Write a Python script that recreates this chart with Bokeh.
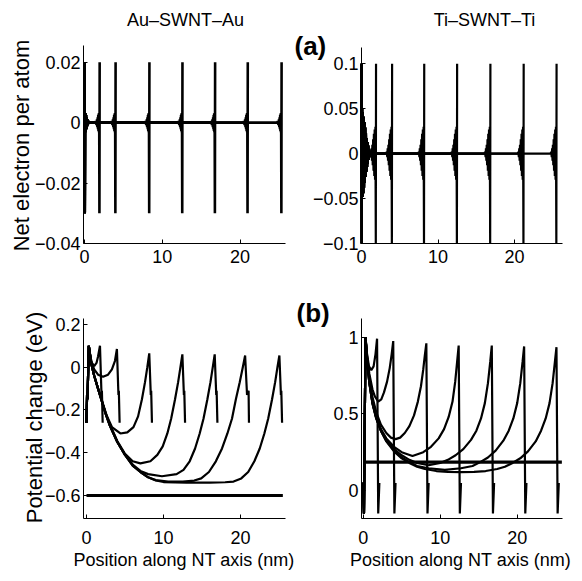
import math
from bokeh.plotting import figure
from bokeh.models import FixedTicker, Range1d, Label
from bokeh.layouts import column, row
from bokeh.embed import file_html
from bokeh.resources import INLINE

FONT = "Liberation Sans"

# ---------------- data ----------------
x_ticks = [0, 10, 20]
x_tick_labels = {0: "0", 10: "10", 20: "20"}

# (a) net electron per atom: tube ends (nm)
au_q_lengths = [1.95, 4.0, 8.35, 12.6, 16.8, 21.0, 25.35]
ti_q_lengths = [1.9, 4.0, 8.2, 12.5, 16.85, 21.2, 25.5]

# charge profile next to a tube end (distance from the end, value)
au_q_dx = [0.0, 0.03, 0.06, 0.09, 0.12, 0.15, 0.18, 0.21, 0.25, 0.29, 0.34, 0.40, 0.50, 0.60]
au_q_end = [0.02, -0.03, 0.0032, -0.0032, 0.003, -0.0028, 0.0025, -0.0022, 0.0018, -0.0015,
            0.0011, -0.0008, 0.0004, 0.0]

ti_q_dx_left = [0.0, 0.03, 0.08, 0.13, 0.18, 0.23, 0.28, 0.33, 0.38, 0.43, 0.48, 0.53, 0.58,
                0.63, 0.68, 0.73, 0.78, 0.83, 0.88, 0.93, 0.98, 1.03, 1.08, 1.13, 1.20]
ti_q_left = [0.1, -0.1, 0.05, -0.048, 0.046, -0.044, 0.041, -0.038, 0.035, -0.032, 0.029,
             -0.026, 0.023, -0.020, 0.017, -0.015, 0.013, -0.011, 0.009, -0.007, 0.005,
             -0.004, 0.003, -0.002, 0.0]
ti_q_dx_right = [0.0, 0.03, 0.08, 0.13, 0.18, 0.23, 0.28, 0.33, 0.38, 0.43, 0.48, 0.53,
                 0.58, 0.63, 0.70, 0.80]
ti_q_right = [0.1, -0.1, 0.03, -0.029, 0.027, -0.025, 0.022, -0.019, 0.016, -0.013, 0.010,
              -0.008, 0.006, -0.004, 0.002, 0.0]

# (b) potential change (eV), Au contacts
au_pot_x = [
    [0.0, 0.08, 0.13, 0.3, 0.5, 0.7, 1.0, 1.3, 1.5, 1.75, 1.95, 2.0, 2.1],
    [0.0, 0.08, 0.13, 0.3, 0.6, 1.0, 1.5, 2.15, 2.8, 3.3, 3.7, 3.95, 4.15, 4.2, 4.3],
    [0.0, 0.08, 0.13, 0.3, 0.6, 1.0, 1.5, 2.0, 2.6, 3.3, 4.4, 5.3, 6.1, 6.7, 7.2, 7.6,
     7.9, 8.15, 8.35, 8.4, 8.5],
    [0.0, 0.08, 0.13, 0.3, 0.6, 1.0, 1.5, 2.0, 2.5, 3.0, 4.0, 5.0, 6.0, 7.0, 8.3, 9.2,
     9.9, 10.5, 11.0, 11.5, 11.9, 12.2, 12.45, 12.65, 12.7, 12.8],
    [0.0, 0.08, 0.13, 0.3, 0.6, 1.0, 1.5, 2.0, 2.5, 3.0, 4.0, 5.0, 6.0, 7.0, 8.0, 9.8,
     11.7, 12.6, 13.4, 14.1, 14.7, 15.2, 15.7, 16.1, 16.4, 16.65, 16.85, 16.9, 17.0],
    [0.0, 0.08, 0.13, 0.3, 0.6, 1.0, 1.5, 2.0, 2.5, 3.0, 4.0, 5.0, 6.0, 7.0, 8.0, 9.0,
     10.6, 12.5, 14.0, 14.9, 15.9, 16.8, 17.6, 18.3, 18.9, 19.4, 19.9, 20.3, 20.6, 20.85,
     21.05, 21.1, 21.2],
    [0.0, 0.08, 0.13, 0.3, 0.6, 1.0, 1.5, 2.0, 2.5, 3.0, 4.0, 5.0, 6.0, 7.0, 8.0, 9.0,
     10.0, 13.0, 16.0, 18.0, 19.1, 20.1, 21.0, 21.8, 22.5, 23.1, 23.6, 24.1, 24.5, 24.8,
     25.05, 25.25, 25.3, 25.4],
]
au_pot_y = [
    [-0.26, -0.12, -0.15, 0.10, 0.05, 0.02, 0.005, 0.02, 0.05, 0.10, -0.13, -0.11, -0.26],
    [-0.26, -0.12, -0.15, 0.10, 0.03, -0.01, -0.035, -0.045, -0.035, -0.01, 0.03, 0.085,
     -0.13, -0.11, -0.26],
    [-0.26, -0.12, -0.15, 0.10, 0.02, -0.04, -0.10, -0.155, -0.225, -0.28, -0.31, -0.305,
     -0.28, -0.23, -0.15, -0.07, 0.0, 0.065, -0.13, -0.11, -0.26],
    [-0.26, -0.12, -0.15, 0.10, 0.02, -0.04, -0.10, -0.16, -0.215, -0.265, -0.345, -0.405,
     -0.44, -0.45, -0.44, -0.41, -0.37, -0.31, -0.24, -0.15, -0.07, 0.0, 0.06, -0.13,
     -0.11, -0.26],
    [-0.26, -0.12, -0.15, 0.10, 0.02, -0.04, -0.10, -0.16, -0.22, -0.27, -0.35, -0.41,
     -0.455, -0.485, -0.50, -0.51, -0.50, -0.48, -0.44, -0.38, -0.31, -0.24, -0.15, -0.07,
     0.0, 0.06, -0.13, -0.11, -0.26],
    [-0.26, -0.12, -0.15, 0.10, 0.02, -0.04, -0.10, -0.16, -0.22, -0.27, -0.35, -0.41,
     -0.46, -0.49, -0.515, -0.528, -0.535, -0.535, -0.53, -0.52, -0.49, -0.44, -0.38,
     -0.31, -0.24, -0.15, -0.07, 0.0, 0.055, -0.13, -0.11, -0.26],
    [-0.26, -0.12, -0.15, 0.10, 0.02, -0.04, -0.10, -0.16, -0.22, -0.27, -0.35, -0.41,
     -0.46, -0.49, -0.515, -0.53, -0.537, -0.54, -0.54, -0.538, -0.535, -0.52, -0.49,
     -0.44, -0.38, -0.31, -0.24, -0.15, -0.07, 0.0, 0.055, -0.13, -0.11, -0.26],
]
au_bulk_x = [0.0, 25.5]
au_bulk_y = [-0.6, -0.6]

# (b) potential change (eV), Ti contacts
ti_pot_x = [
    [0.0, 0.1, 0.3, 0.5, 0.75, 1.05, 1.35, 1.6, 1.8, 1.95, 2.1],
    [0.0, 0.1, 0.3, 0.5, 0.8, 1.2, 1.5, 1.95, 2.35, 2.7, 3.1, 3.45, 3.7, 3.9, 4.05, 4.2],
    [0.0, 0.1, 0.3, 0.5, 0.8, 1.2, 1.7, 2.3, 3.0, 3.6, 4.2, 4.8, 5.4, 6.0, 6.6, 7.1, 7.5,
     7.8, 8.0, 8.2, 8.35, 8.5],
    [0.0, 0.1, 0.3, 0.5, 0.8, 1.2, 1.7, 2.3, 3.0, 4.0, 5.0, 6.4, 7.8, 8.8, 9.8, 10.5, 11.1,
     11.6, 11.95, 12.2, 12.4, 12.55, 12.7],
    [0.0, 0.1, 0.3, 0.5, 0.8, 1.2, 1.7, 2.3, 3.0, 4.0, 5.0, 6.0, 7.0, 8.5, 10.0, 11.0,
     12.0, 13.0, 14.0, 14.7, 15.3, 15.8, 16.2, 16.5, 16.7, 16.85, 17.0],
    [0.0, 0.1, 0.3, 0.5, 0.8, 1.2, 1.7, 2.3, 3.0, 4.0, 5.0, 6.0, 7.0, 8.5, 10.6, 12.7,
     14.2, 15.2, 16.2, 17.2, 18.2, 18.9, 19.5, 20.0, 20.4, 20.7, 20.9, 21.05, 21.2],
    [0.0, 0.1, 0.3, 0.5, 0.8, 1.2, 1.7, 2.3, 3.0, 4.0, 5.0, 6.0, 7.0, 8.0, 9.5, 11.0, 12.7,
     14.4, 15.9, 17.4, 18.4, 19.4, 20.4, 21.4, 22.4, 23.1, 23.7, 24.2, 24.6, 24.9, 25.1,
     25.25, 25.4],
]
ti_pot_y = [
    [0.05, -0.15, 1.0, 0.89, 0.81, 0.785, 0.81, 0.89, 0.99, -0.15, 0.05],
    [0.05, -0.15, 1.0, 0.88, 0.76, 0.66, 0.615, 0.58, 0.595, 0.64, 0.71, 0.80, 0.89, 0.975,
     -0.15, 0.05],
    [0.05, -0.15, 1.0, 0.87, 0.73, 0.61, 0.51, 0.43, 0.375, 0.345, 0.335, 0.345, 0.375,
     0.42, 0.49, 0.58, 0.68, 0.79, 0.88, 0.96, -0.15, 0.05],
    [0.05, -0.15, 1.0, 0.86, 0.71, 0.58, 0.48, 0.40, 0.34, 0.285, 0.25, 0.225, 0.25, 0.285,
     0.34, 0.40, 0.48, 0.58, 0.71, 0.84, 0.945, -0.15, 0.05],
    [0.05, -0.15, 1.0, 0.85, 0.70, 0.57, 0.47, 0.39, 0.33, 0.27, 0.23, 0.20, 0.18, 0.165,
     0.18, 0.20, 0.23, 0.27, 0.33, 0.39, 0.47, 0.57, 0.70, 0.84, 0.945, -0.15, 0.05],
    [0.05, -0.15, 1.0, 0.85, 0.70, 0.57, 0.47, 0.39, 0.325, 0.26, 0.215, 0.185, 0.16, 0.145,
     0.135, 0.145, 0.16, 0.185, 0.215, 0.26, 0.325, 0.39, 0.47, 0.57, 0.70, 0.84, 0.94,
     -0.15, 0.05],
    [0.05, -0.15, 1.0, 0.85, 0.70, 0.57, 0.47, 0.39, 0.32, 0.255, 0.21, 0.18, 0.155, 0.14,
     0.127, 0.121, 0.12, 0.121, 0.127, 0.14, 0.155, 0.18, 0.21, 0.255, 0.32, 0.39, 0.47,
     0.57, 0.70, 0.84, 0.935, -0.15, 0.05],
]
ti_bulk_x = [0.0, 25.8]
ti_bulk_y = [0.185, 0.185]

au_q_ticks = [-0.04, -0.02, 0, 0.02]
au_q_tick_labels = {-0.04: "\u22120.04", -0.02: "\u22120.02", 0: "0", 0.02: "0.02"}
ti_q_ticks = [-0.1, -0.05, 0, 0.05, 0.1]
ti_q_tick_labels = {-0.1: "\u22120.1", -0.05: "\u22120.05", 0: "0", 0.05: "0.05", 0.1: "0.1"}
au_pot_ticks = [-0.6, -0.4, -0.2, 0, 0.2]
au_pot_tick_labels = {-0.6: "\u22120.6", -0.4: "\u22120.4", -0.2: "\u22120.2", 0: "0", 0.2: "0.2"}
ti_pot_ticks = [0, 0.5, 1]
ti_pot_tick_labels = {0: "0", 0.5: "0.5", 1: "1"}

titles = ["Au\u2013SWNT\u2013Au", "Ti\u2013SWNT\u2013Ti"]
x_title = "Position along NT axis (nm)"
y_titles = ["Net electron per atom", "Potential change (eV)"]
panel_letters = ["(a)", "(b)"]

TICK_SIZE = "18px"


# ---------------- layout helpers (pixel placement only) ----------------
def lin(p0, v0, p1, v1):
    k = (v1 - v0) / (p1 - p0)
    return lambda px: v0 + (px - p0) * k


def make_panel(W, H, xmap, ymap, ax_left, ax_right, ax_top, ax_bottom,
               yticks, ylabels, xstand):
    """Whole canvas is the frame; axes are pinned at the wanted pixel lines."""
    fx = lin(*xmap)
    fy = lin(*ymap)
    p = figure(x_range=Range1d(fx(0), fx(W)), y_range=Range1d(fy(H), fy(0)),
               frame_width=W, frame_height=H, min_border_left=0, min_border_right=0,
               min_border_top=0, min_border_bottom=0, output_backend="svg",
               toolbar_location=None, background_fill_color="white",
               border_fill_color="white")
    p.title.visible = False
    p.outline_line_color = None
    p.grid.visible = False
    p.xaxis.ticker = FixedTicker(ticks=x_ticks)
    p.xaxis.major_label_overrides = x_tick_labels
    p.yaxis.ticker = FixedTicker(ticks=yticks)
    p.yaxis.major_label_overrides = ylabels
    p.xaxis.fixed_location = fy(ax_bottom)
    p.xaxis.bounds = (fx(ax_left), fx(ax_right))
    p.yaxis.fixed_location = fx(ax_left)
    p.yaxis.bounds = (fy(ax_bottom), fy(ax_top))
    for ax in (p.xaxis[0], p.yaxis[0]):
        ax.axis_line_color = "black"
        ax.axis_line_width = 1
        ax.major_tick_in = 4
        ax.major_tick_out = 0
        ax.major_tick_line_color = "black"
        ax.minor_tick_line_color = None
        ax.major_label_text_font = FONT
        ax.major_label_text_font_size = TICK_SIZE
        ax.major_label_text_color = "black"
    p.xaxis.major_label_standoff = xstand
    p.yaxis.major_label_standoff = 3
    return p, fx, fy


def add_text(p, fx, fy, px, py, text, size, bold=False, angle=0.0, align="center"):
    p.add_layout(Label(x=fx(px), y=fy(py), text=text, text_font=FONT, text_font_size=size,
                       text_font_style="bold" if bold else "normal", text_color="black",
                       text_align=align, text_baseline="middle", angle=angle))


# ---- top left: Au charge (canvas 0..290 x 0..290) ----
tl, fx, fy = make_panel(290, 290, (84, 0, 239.5, 20), (243, -0.04, 61.7, 0.02),
                        83, 285, 45, 243, au_q_ticks, au_q_tick_labels, 6)
tl_xs, tl_ys = [], []
for L in au_q_lengths:
    tl_xs.append(au_q_dx + [L - d for d in reversed(au_q_dx)])
    tl_ys.append(au_q_end + list(reversed(au_q_end)))
tl.multi_line(tl_xs, tl_ys, line_color="black", line_width=2.6)
add_text(tl, fx, fy, 185, 19, titles[0], "18px")
add_text(tl, fx, fy, 21, 145, y_titles[0], "22px", angle=math.pi / 2)

# ---- top right: Ti charge (canvas 290..582 x 0..290) ----
tr, fx, fy = make_panel(292, 290, (71, 0, 224, 20), (243, -0.1, 63.3, 0.1),
                        71, 272, 47, 243, ti_q_ticks, ti_q_tick_labels, 6)
tr_xs, tr_ys = [], []
for L in ti_q_lengths:
    tr_xs.append(ti_q_dx_left + [L - d for d in reversed(ti_q_dx_right)])
    tr_ys.append(ti_q_left + list(reversed(ti_q_right)))
tr.multi_line(tr_xs, tr_ys, line_color="black", line_width=2.2)
add_text(tr, fx, fy, 194, 19, titles[1], "18px")
add_text(tr, fx, fy, 4, 45, panel_letters[0], "26px", bold=True, align="left")

# ---- bottom left: Au potential (canvas 0..295 x 290..581) ----
bl, fx, fy = make_panel(295, 291, (86, 0, 240, 20), (205, -0.6, 76.7, 0.0),
                        83, 285, 28.3, 227.7, au_pot_ticks, au_pot_tick_labels, 13)
bl.multi_line(au_pot_x, au_pot_y, line_color="black", line_width=2.2)
bl.line(au_bulk_x, au_bulk_y, line_color="black", line_width=3.2)
add_text(bl, fx, fy, 34, 127, y_titles[1], "22px", angle=math.pi / 2)
add_text(bl, fx, fy, 183.5, 269, x_title, "18px")

# ---- bottom right: Ti potential (canvas 295..582 x 290..581) ----
br, fx, fy = make_panel(287, 291, (67.7, 0, 221.7, 20), (200, 0.0, 46.7, 1.0),
                        66, 266.7, 28.3, 227.7, ti_pot_ticks, ti_pot_tick_labels, 13)
br.multi_line(ti_pot_x, ti_pot_y, line_color="black", line_width=2.2)
br.line(ti_bulk_x, ti_bulk_y, line_color="black", line_width=3.2)
add_text(br, fx, fy, 165, 269, x_title, "18px")
add_text(br, fx, fy, 1, 22, panel_letters[1], "26px", bold=True, align="left")

layout = column(row(tl, tr), row(bl, br))
open("out.html", "w").write(file_html(layout, INLINE))
